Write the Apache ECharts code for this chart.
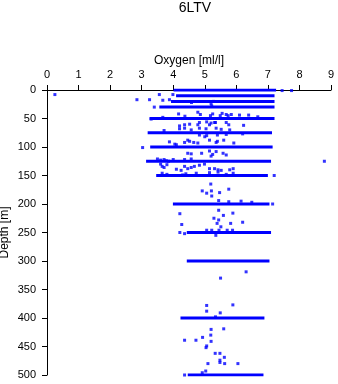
<!DOCTYPE html>
<html><head><meta charset="utf-8">
<script src="https://cdn.jsdelivr.net/npm/echarts@6/dist/echarts.min.js"></script>
<style>html,body{margin:0;padding:0;background:#fff}#c{width:338px;height:384px}</style>
</head><body><div id="c"></div>
<script>
// Standard-depth dense observations (drawn as thick bands)
var bandDepth = [0, 10, 20, 30, 50, 75, 100, 125, 150, 200, 250, 300, 400, 500];
var bandMinO2 = [4.01, 4.09, 3.93, 3.56, 3.25, 3.19, 3.27, 3.14, 3.46, 3.99, 4.43, 4.43, 4.23, 4.46];
var bandMaxO2 = [7.26, 7.21, 7.21, 7.21, 7.21, 7.13, 7.15, 7.10, 7.00, 7.05, 7.10, 7.05, 6.89, 6.86];

// Individual observations
var obsO2 = [
 7.45, 7.75,
 0.25, 3.56, 3.99,
 2.85, 3.25, 3.67, 3.88, 4.58, 5.20, 5.28, 5.22,
 3.40,
 4.17, 4.37, 4.78, 4.86, 5.18, 5.25, 5.49, 5.55, 5.68, 5.74, 5.84, 6.10, 6.39, 6.68, 3.67, 3.30,
 4.83, 5.06, 5.34, 5.68, 4.20, 4.36, 4.52, 4.78, 5.15, 5.20, 5.31, 5.76, 6.23,
 4.20, 4.36, 4.57, 4.83, 5.04, 5.36, 5.52, 5.79, 3.71,
 4.83, 5.00, 5.06, 5.40, 5.68, 6.20,
 3.88, 4.05, 4.10, 4.36, 4.46, 4.52, 4.65, 4.78, 5.15, 5.36, 5.40, 5.60, 5.92,
 3.03, 5.15, 5.36, 5.58, 5.68, 4.46, 4.57, 4.90, 5.25, 5.20,
 3.50, 3.60, 3.71, 3.78, 3.85, 4.00, 4.36, 4.57, 8.79,
 3.60, 3.65, 3.71, 3.80, 4.10, 4.25, 4.36, 4.46, 4.57, 4.67, 4.83, 4.99, 5.15, 5.31, 5.42, 5.52, 5.79, 5.90,
 3.65, 3.80, 4.10, 4.30, 4.40, 4.73, 5.15, 5.42, 5.68, 5.90, 7.20,
 5.19, 4.92, 5.06, 5.21, 5.47, 5.76, 5.22,
 5.44, 5.76, 6.15, 6.49, 7.15,
 5.44, 4.21, 5.89, 5.59, 5.29, 5.44, 5.39, 4.27, 5.82, 6.20, 5.51,
 5.06, 5.22, 5.45, 5.71, 5.88, 4.21, 5.35, 4.36,
 6.31, 5.50, 5.06, 5.89, 5.06, 5.49, 5.34,
 5.20, 5.60, 4.93, 5.19, 4.36, 4.72, 5.20, 5.06, 5.04, 5.33, 5.48, 5.62, 5.48, 5.48,
 5.10, 5.63, 6.05, 5.03, 4.92, 4.36
];
var obsDepth = [
 1, 1,
 8, 8, 8,
 17, 17, 18, 17, 22, 24, 20, 28,
 30,
 42, 46, 39, 43, 45, 42, 45, 41, 43, 45, 43, 44, 44, 47, 48, 51,
 57, 56, 57, 57, 63, 61, 60, 61, 61, 58, 57, 61, 62,
 68, 67, 70, 67, 68, 67, 69, 70, 71,
 79, 82, 80, 79, 78, 77,
 91, 95, 96, 92, 88, 90, 92, 93, 88, 92, 90, 88, 93,
 101, 107, 108, 111, 114, 111, 112, 111, 113, 116,
 121, 123, 122, 124, 125, 122, 122, 121, 125,
 130, 134, 136, 131, 139, 141, 134, 138, 136, 134, 132, 130, 138, 138, 140, 141, 140, 138,
 146, 148, 150, 149, 147, 146, 145, 144, 148, 146, 150,
 165, 177, 181, 177, 180, 174, 186,
 194, 196, 195, 197, 200,
 211, 217, 216, 220, 225, 228, 234, 236, 234, 232, 240,
 246, 246, 246, 246, 246, 250, 255, 252,
 319, 330, 378, 377, 388, 391, 398,
 420, 419, 434, 430, 439, 439, 441, 449, 452, 462, 462, 469, 474, 478,
 480, 480, 480, 493, 496, 500
];

var xTicks = [0,1,2,3,4,5,6,7,8,9];
var yTicks = [0,50,100,150,200,250,300,350,400,450,500];

var BLUE = '#0000ff';
var FONT = 'Liberation Sans, Arial, sans-serif';
var series = [];
for (var i = 0; i < bandDepth.length; i++) {
  series.push({
    type: 'line', silent: true, symbol: 'none', animation: false,
    lineStyle: {color: BLUE, width: 3, cap: 'butt'},
    data: [[bandMinO2[i], bandDepth[i]], [bandMaxO2[i], bandDepth[i]]]
  });
}
var pts = obsO2.map(function (v, k) { return [v, obsDepth[k]]; });
series.push({
  type: 'scatter', symbol: 'rect', symbolSize: 3, animation: false,
  itemStyle: {color: BLUE}, data: pts
});

var chart = echarts.init(document.getElementById('c'), null, {renderer: 'canvas'});
chart.setOption({
  animation: false,
  backgroundColor: '#fff',
  title: {text: '6LTV', left: 190, top: -4, textAlign: 'center',
    textStyle: {fontFamily: FONT, fontSize: 14, fontWeight: 'normal', color: '#000'}},
  grid: {left: 47, right: 7, top: 90, bottom: 9, containLabel: false, outerBoundsMode: 'none'},
  xAxis: {
    type: 'value', position: 'top', min: 0, max: 9, interval: 1,
    name: 'Oxygen [ml/l]', nameLocation: 'middle', nameGap: 23, nameMoveOverlap: false,
    nameTextStyle: {fontFamily: FONT, fontSize: 12, color: '#000'},
    axisLine: {show: true, lineStyle: {color: '#000', width: 1}},
    axisTick: {show: true, length: 5, lineStyle: {color: '#000'}},
    axisLabel: {fontFamily: FONT, fontSize: 11, color: '#000', margin: 10,
      formatter: function (v) { return xTicks.indexOf(v) >= 0 ? String(v) : ''; }},
    splitLine: {show: false}
  },
  yAxis: {
    type: 'value', inverse: true, min: 0, max: 500, interval: 50,
    name: 'Depth [m]', nameLocation: 'middle', nameGap: 36, nameMoveOverlap: false,
    nameTextStyle: {fontFamily: FONT, fontSize: 12, color: '#000'},
    axisLine: {show: true, lineStyle: {color: '#000', width: 1}},
    axisTick: {show: true, length: 5, lineStyle: {color: '#000'}},
    axisLabel: {fontFamily: FONT, fontSize: 11, color: '#000', margin: 11,
      formatter: function (v) { return yTicks.indexOf(v) >= 0 ? String(v) : ''; }},
    splitLine: {show: false}
  },
  series: series
});
</script></body></html>
